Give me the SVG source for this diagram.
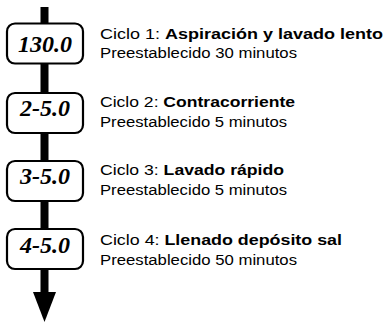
<svg xmlns="http://www.w3.org/2000/svg" width="384" height="323" viewBox="0 0 384 323">
<style>
.box{fill:#fff;stroke:#000;stroke-width:2.2}
.num{font-family:"Liberation Serif","Times New Roman",serif;font-weight:bold;font-style:italic;font-size:24px;text-anchor:middle;fill:#000}
.lbl{font-family:"Liberation Sans",Arial,sans-serif;font-size:15.5px;fill:#000}
.b{font-weight:bold}
</style>
<rect width="384" height="323" fill="#fff"/>
<g id="connectors">
<rect x="40.5" y="7" width="8" height="286" fill="#000"/>
<polygon points="33,292 56,292 44.5,322" fill="#000"/>
</g>
<g id="node1">
<rect class="box" x="7" y="23.5" width="76" height="40" rx="8"/>
<text class="num" x="45" y="52">130.0</text>
<text class="lbl" x="100" y="39" textLength="283" lengthAdjust="spacingAndGlyphs">Ciclo 1: <tspan class="b">Aspiración y lavado lento</tspan></text>
<text class="lbl" x="100" y="58" textLength="197" lengthAdjust="spacingAndGlyphs">Preestablecido 30 minutos</text>
</g>
<g id="node2">
<rect class="box" x="7" y="93" width="76" height="40" rx="8"/>
<text class="num" x="45" y="116">2-5.0</text>
<text class="lbl" x="100" y="107" textLength="195" lengthAdjust="spacingAndGlyphs">Ciclo 2: <tspan class="b">Contracorriente</tspan></text>
<text class="lbl" x="100" y="127" textLength="187" lengthAdjust="spacingAndGlyphs">Preestablecido 5 minutos</text>
</g>
<g id="node3">
<rect class="box" x="7" y="161" width="76" height="40" rx="8"/>
<text class="num" x="45" y="184">3-5.0</text>
<text class="lbl" x="100" y="175" textLength="184" lengthAdjust="spacingAndGlyphs">Ciclo 3: <tspan class="b">Lavado rápido</tspan></text>
<text class="lbl" x="100" y="195" textLength="187" lengthAdjust="spacingAndGlyphs">Preestablecido 5 minutos</text>
</g>
<g id="node4">
<rect class="box" x="7" y="229" width="76" height="40" rx="8"/>
<text class="num" x="45" y="253">4-5.0</text>
<text class="lbl" x="100" y="245" textLength="242" lengthAdjust="spacingAndGlyphs">Ciclo 4: <tspan class="b">Llenado depósito sal</tspan></text>
<text class="lbl" x="100" y="265" textLength="197" lengthAdjust="spacingAndGlyphs">Preestablecido 50 minutos</text>
</g>
</svg>
